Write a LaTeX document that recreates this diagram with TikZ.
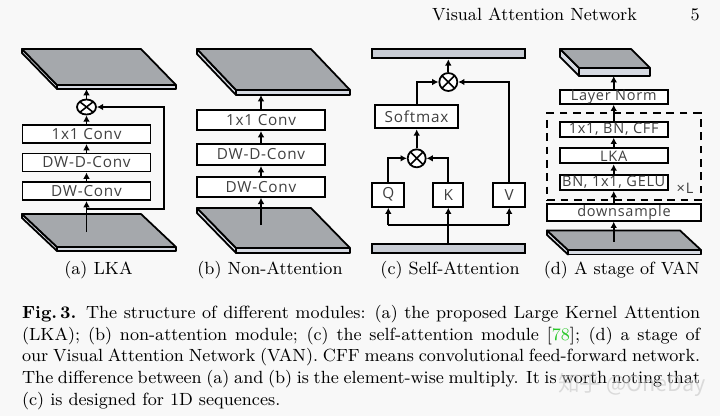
\documentclass[tikz,border=0pt]{standalone}
\usepackage{fontspec}
\newfontfamily\boxfont[LetterSpace=5]{Open Sans}
\newfontfamily\cjkfont{Noto Sans CJK SC}
\usetikzlibrary{arrows.meta,calc,shapes.geometric}
\definecolor{bg}{RGB}{248,248,248}
\definecolor{slabtop}{RGB}{165,168,172}
\definecolor{slabside}{RGB}{214,218,226}
\definecolor{barfill}{RGB}{200,204,212}
\definecolor{boxtext}{RGB}{64,64,64}
\definecolor{citegreen}{RGB}{40,200,40}
\newcommand\drawslab[6]{% x y w dx h t
  \filldraw[slabedge, fill=slabside] (#1+#4,#2+#5) -- ++(#3,0) -- ++(0,#6) -- ++(-#3,0) -- cycle;
  \filldraw[slabedge, fill=slabside] (#1,#2) -- (#1+#4,#2+#5) -- ++(0,#6) -- (#1,#2+#6) -- cycle;
  \filldraw[slabedge, fill=slabtop] (#1,#2) -- ++(#3,0) -- ++(#4,#5) -- ++(-#3,0) -- cycle;
}
\begin{document}
\begin{tikzpicture}[x=0.51pt,y=-0.51pt,
  blk/.style={draw=black, line width=1pt, fill=white, inner sep=0pt, font=\boxfont\fontsize{7.8}{8}\selectfont, text=boxtext},
  dblk/.style={blk, font=\boxfont\fontsize{7.4}{8}\selectfont},
  arr/.style={line width=0.9pt, -{Latex[length=3.2pt,width=3.4pt]}},
  ln/.style={line width=0.9pt},
  slabedge/.style={draw=black, line width=0.9pt, line join=round},
  crossmark/.style={draw=black, line width=0.9pt, fill=white, inner sep=0pt,
    path picture={\draw[line width=0.8pt] (path picture bounding box.north west) -- (path picture bounding box.south east) (path picture bounding box.north east) -- (path picture bounding box.south west);}},
  otc/.style={crossmark, circle, minimum size=18*0.51pt},
  ote/.style={crossmark, ellipse, minimum width=19*0.51pt, minimum height=15*0.51pt},
  bar/.style={draw=black, line width=1pt, fill=barfill, inner sep=0pt},
  lab/.style={font=\fontsize{9}{11}\selectfont, anchor=base, inner sep=0pt},
]
\fill[bg] (0,0) rectangle (720,416);
\useasboundingbox (0,0) rectangle (720,416);

% header
\node[anchor=base west, inner sep=0pt, font=\fontsize{9}{11}\selectfont] (hdr) at (431.7,20) {Visual Attention Network};
\node[anchor=base east, inner sep=0pt, font=\fontsize{9}{11}\selectfont] (pg) at (700,20) {5};

% ---------------- (a) LKA
\drawslab{22}{49}{119}{35}{36}{4}
\drawslab{22}{214}{119}{35}{33}{4}
\node[blk, minimum width=128*0.51pt, minimum height=18*0.51pt] (a1) at (86.5,191) {DW-Conv};
\node[blk, minimum width=128*0.51pt, minimum height=18*0.51pt] (a2) at (86.5,162.5) {DW-D-Conv};
\node[blk, minimum width=128*0.51pt, minimum height=18*0.51pt] (a3) at (86.5,134) {1x1 Conv};
\node[ote] (aot) at (86.5,107) {};
\coordinate (atop) at (86.5,89);
\coordinate (abot) at (86.5,232);
\coordinate (abr) at (86.5,209);
\coordinate (acorner) at (164,209);
\draw[arr] (abot) -- (a1.south);
\draw[arr] (a1.north) -- (a2.south);
\draw[arr] (a2.north) -- (a3.south);
\draw[arr] (a3.north) -- (aot.south);
\draw[arr] (aot.north) -- (atop);
\draw[arr] (abr) -- (acorner) |- (aot.east);
\node[lab] (capa) at (98.5,274.5) {(a) LKA};

% ---------------- (b) Non-Attention
\drawslab{197}{49}{114}{39}{41}{5}
\drawslab{197}{208}{114}{39}{40}{5}
\node[blk, minimum width=128*0.51pt, minimum height=19.5*0.51pt] (b1) at (261,187) {DW-Conv};
\node[blk, minimum width=128*0.51pt, minimum height=21*0.51pt] (b2) at (261,154.5) {DW-D-Conv};
\node[blk, minimum width=128*0.51pt, minimum height=20*0.51pt] (b3) at (261,120) {1x1 Conv};
\coordinate (btop) at (261,95);
\coordinate (bbot) at (261,225);
\draw[arr] (bbot) -- (b1.south);
\draw[arr] (b1.north) -- (b2.south);
\draw[arr] (b2.north) -- (b3.south);
\draw[arr] (b3.north) -- (btop);
\node[lab] (capb) at (270,274.5) {(b) Non-Attention};

% ---------------- (c) Self-Attention
\node[bar, minimum width=152.7*0.51pt, minimum height=9*0.51pt] (tbar) at (448.6,53.8) {};
\node[bar, minimum width=152.7*0.51pt, minimum height=9*0.51pt] (bbar) at (448.6,248.8) {};
\node[otc] (ot1) at (448.3,82) {};
\node[otc] (ot2) at (416.7,158.3) {};
\node[blk, minimum width=82.7*0.51pt, minimum height=23.3*0.51pt] (sm) at (416.5,116.7) {Softmax};
\node[blk, minimum width=32*0.51pt, minimum height=24*0.51pt] (Q) at (388.3,194.7) {Q};
\node[blk, minimum width=30*0.51pt, minimum height=24*0.51pt] (K) at (448.3,194.7) {K};
\node[blk, minimum width=31.7*0.51pt, minimum height=24*0.51pt] (V) at (509.2,194.7) {V};
\coordinate (split) at (448.3,225);
\draw[arr] (ot1.north) -- (ot1.north |- tbar.south);
\draw[arr] (sm.north -| ot2) |- (ot1.west);
\draw[arr] (V.north) |- (ot1.east);
\draw[arr] (ot2.north) -- (ot2.north |- sm.south);
\draw[arr] (Q.north) |- (ot2.west);
\draw[arr] (K.north) |- (ot2.east);
\draw[ln] (bbar.north -| K) -- (split);
\draw[ln] (split -| Q) -- (split -| V);
\draw[arr] (split -| Q) -- (Q.south);
\draw[arr] (split) -- (K.south);
\draw[arr] (split -| V) -- (V.south);
\node[lab] (capc) at (450,274.5) {(c) Self-Attention};

% ---------------- (d) A stage of VAN
\drawslab{560}{49}{71}{19}{19}{8}
\drawslab{547}{230.5}{133}{21}{19.5}{4.5}
\node[draw=black, line width=1pt, dashed, dash pattern=on 4pt off 2.8pt, minimum width=153.4*0.51pt, minimum height=86.7*0.51pt, inner sep=0pt] (rep) at (624,156.7) {};
\node[dblk, minimum width=108*0.51pt, minimum height=13.5*0.51pt] (d4) at (613.7,96.8) {Layer Norm};
\node[dblk, minimum width=108*0.51pt, minimum height=15*0.51pt] (d3) at (613.7,129.2) {1x1, BN, CFF};
\node[dblk, minimum width=108*0.51pt, minimum height=15*0.51pt] (d2) at (613.7,155.8) {LKA};
\node[dblk, minimum width=108*0.51pt, minimum height=15*0.51pt] (d1) at (613.7,182.5) {BN, 1x1, GELU};
\node[dblk, minimum width=153.4*0.51pt, minimum height=16.7*0.51pt] (d0) at (624,212.3) {downsample};
\node[font=\boxfont\fontsize{7.4}{8}\selectfont, text=boxtext, inner sep=0pt] (xl) at (685,188) {×L};
\coordinate (dtop) at (613.7,76);
\coordinate (dbot) at (613.7,241.7);
\draw[arr] (dbot) -- (dbot |- d0.south);
\draw[arr] (d0.north -| d1) -- (d1.south);
\draw[arr] (d1.north) -- (d2.south);
\draw[arr] (d2.north) -- (d3.south);
\draw[arr] (d3.north) -- (d4.south);
\draw[arr] (d4.north) -- (dtop);
\node[lab] (capd) at (621.7,274.5) {(d) A stage of VAN};

% ---------------- caption
\node[anchor=north west, inner sep=0pt, text width=345.8pt, align=justify, font=\fontsize{9}{11.07}\selectfont] (cap) at (21.7,304.9)
{\textbf{Fig.\,3.} The structure of different modules: (a) the proposed Large Kernel Attention\linebreak
(LKA); (b) non-attention module; (c) the self-attention module [{\color{citegreen}78}]; (d) a stage of\linebreak
our Visual Attention Network (VAN). CFF means convolutional feed-forward network.\linebreak
The difference between (a) and (b) is the element-wise multiply. It is worth noting that\linebreak
(c) is designed for 1D sequences.};

% watermark
\node[anchor=west, inner sep=0pt, font=\cjkfont\fontsize{11}{12}\selectfont, text=gray!45, opacity=0.6] (wm) at (558,385) {知乎 @OneDay};
\end{tikzpicture}
\end{document}
